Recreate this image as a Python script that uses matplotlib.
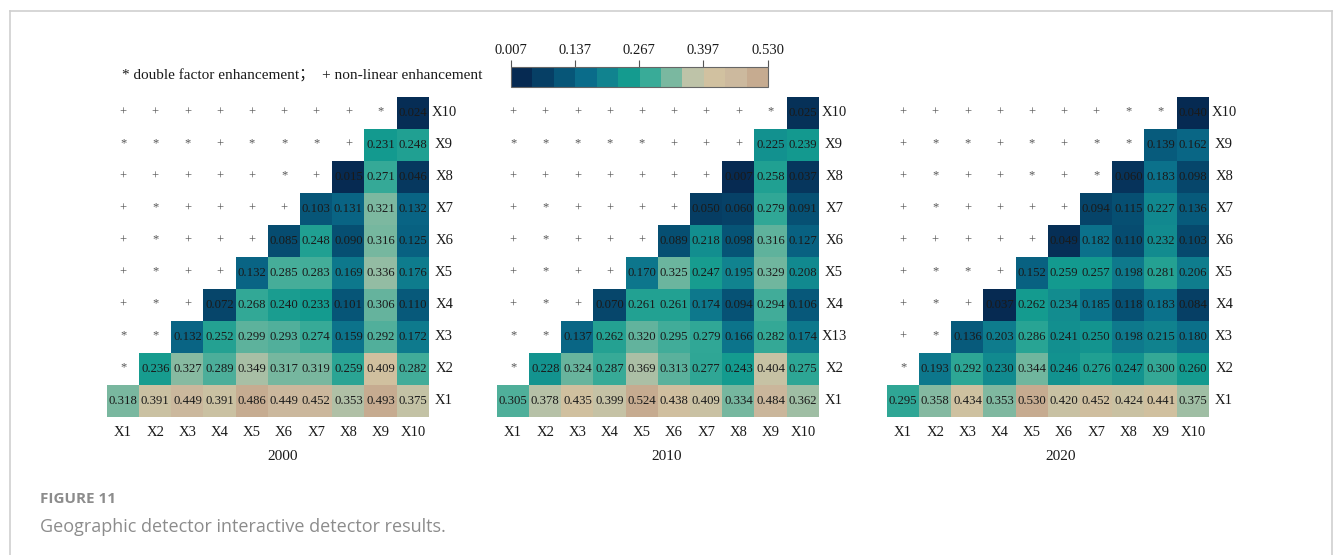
import numpy as np
import matplotlib
matplotlib.use("Agg")
import matplotlib.pyplot as plt
from matplotlib.colors import ListedColormap, LinearSegmentedColormap, Normalize
from matplotlib.cm import ScalarMappable
from matplotlib.lines import Line2D

W, H = 1333, 555
SERIF = "Liberation Serif"

factors = ["X1", "X2", "X3", "X4", "X5", "X6", "X7", "X8", "X9", "X10"]
years = ["2000", "2010", "2020"]

# q values of interactions, one row per factor (X1 at the bottom),
# each row running from the diagonal out to X10
q_2000 = [
    [0.318, 0.391, 0.449, 0.391, 0.486, 0.449, 0.452, 0.353, 0.493, 0.375],
    [0.236, 0.327, 0.289, 0.349, 0.317, 0.319, 0.259, 0.409, 0.282],
    [0.132, 0.252, 0.299, 0.293, 0.274, 0.159, 0.292, 0.172],
    [0.072, 0.268, 0.240, 0.233, 0.101, 0.306, 0.110],
    [0.132, 0.285, 0.283, 0.169, 0.336, 0.176],
    [0.085, 0.248, 0.090, 0.316, 0.125],
    [0.103, 0.131, 0.321, 0.132],
    [0.015, 0.271, 0.046],
    [0.231, 0.248],
    [0.024],
]
q_2010 = [
    [0.305, 0.378, 0.435, 0.399, 0.524, 0.438, 0.409, 0.334, 0.484, 0.362],
    [0.228, 0.324, 0.287, 0.369, 0.313, 0.277, 0.243, 0.404, 0.275],
    [0.137, 0.262, 0.320, 0.295, 0.279, 0.166, 0.282, 0.174],
    [0.070, 0.261, 0.261, 0.174, 0.094, 0.294, 0.106],
    [0.170, 0.325, 0.247, 0.195, 0.329, 0.208],
    [0.089, 0.218, 0.098, 0.316, 0.127],
    [0.050, 0.060, 0.279, 0.091],
    [0.007, 0.258, 0.037],
    [0.225, 0.239],
    [0.025],
]
q_2020 = [
    [0.295, 0.358, 0.434, 0.353, 0.530, 0.420, 0.452, 0.424, 0.441, 0.375],
    [0.193, 0.292, 0.230, 0.344, 0.246, 0.276, 0.247, 0.300, 0.260],
    [0.136, 0.203, 0.286, 0.241, 0.250, 0.198, 0.215, 0.180],
    [0.037, 0.262, 0.234, 0.185, 0.118, 0.183, 0.084],
    [0.152, 0.259, 0.257, 0.198, 0.281, 0.206],
    [0.049, 0.182, 0.110, 0.232, 0.103],
    [0.094, 0.115, 0.227, 0.136],
    [0.060, 0.183, 0.098],
    [0.139, 0.162],
    [0.040],
]

# interaction type left of the diagonal: * double factor, + non-linear
sym_2000 = ["", "*", "**", "+*+", "+*++", "+*+++", "+*++++", "+++++*+",
            "***+***+", "++++++++*"]
sym_2010 = ["", "*", "**", "+*+", "+*++", "+*+++", "+*++++", "+++++++",
            "*****+++", "++++++++*"]
sym_2020 = ["", "*", "+*", "+*+", "+**+", "+++++", "+*++++", "+*++*+*",
            "+**+*+**", "+++++++**"]

# right-hand row labels (the 2010 panel carries "X13" on its third row)
rows_2000 = factors
rows_2010 = ["X1", "X2", "X13", "X4", "X5", "X6", "X7", "X8", "X9", "X10"]
rows_2020 = factors

palette = ["#062a52", "#063f65", "#075678", "#0a6c8a", "#11838f", "#149b8f",
           "#39ab98", "#7ab8a0", "#bec3a8", "#d1c1a0", "#ccb99e", "#c6ab90"]
cbar_ticks = [0.007, 0.137, 0.267, 0.397, 0.530]

panels = [
    (q_2000, sym_2000, rows_2000, 107, 4.94),
    (q_2010, sym_2010, rows_2010, 497, 4.78),
    (q_2020, sym_2020, rows_2020, 887, 4.90),
]


def fx(x):
    return x / W


def fy(y):
    return 1 - y / H


fig = plt.figure(figsize=(W / 100, H / 100), dpi=100)
cell_cmap = LinearSegmentedColormap.from_list("geo", palette)

for k, (q, sym, rlabels, x0, year_x) in enumerate(panels):
    grid = np.full((10, 10), np.nan)
    for r, row in enumerate(q):
        grid[r, r:] = row
    data = np.ma.masked_invalid(grid)

    ax = fig.add_axes([fx(x0), fy(417), 322 / W, 320 / H])
    ax.imshow(data, origin="lower", cmap=cell_cmap,
              norm=Normalize(data.min(), data.max()),
              interpolation="nearest", aspect="auto")
    ax.set_xlim(-0.5, 9.5)
    ax.set_ylim(-0.5, 9.5)
    ax.axis("off")

    for r in range(10):
        for c in range(10):
            if c >= r:
                ax.text(c, r, f"{grid[r, c]:.3f}", ha="center", va="center",
                        fontsize=9.2, family=SERIF, color="#1a1a1a")
            else:
                ax.text(c, r + (0.05 if sym[r][c] == "*" else 0), sym[r][c],
                        ha="center", va="center", fontsize=9,
                        family=SERIF, color="#555555")
        ax.text(9.97, r, rlabels[r], ha="center", va="center",
                fontsize=10.5, family=SERIF, color="#1a1a1a")
    for c, lab in enumerate(factors):
        ax.text(c, -1.0, lab, ha="center", va="center", fontsize=10.5,
                family=SERIF, color="#1a1a1a")
    ax.text(year_x, -1.75, years[k], ha="center", va="center", fontsize=11,
            family=SERIF, color="#1a1a1a")

fig.text(fx(122), fy(76),
         "* double factor enhancement；  + non-linear enhancement",
         ha="left", va="center", fontsize=11,
         family=[SERIF, "Noto Sans CJK SC"], color="#1a1a1a")

# discrete colour scale
cax = fig.add_axes([fx(511), fy(87), 257 / W, 20 / H])
sm = ScalarMappable(norm=Normalize(0.007, 0.530), cmap=ListedColormap(palette))
cb = fig.colorbar(sm, cax=cax, orientation="horizontal", ticks=cbar_ticks)
cb.ax.xaxis.set_ticks_position("top")
cb.ax.set_xticklabels([f"{t:.3f}" for t in cbar_ticks], family=SERIF,
                      fontsize=10.5, color="#1a1a1a")
cb.ax.tick_params(length=5, width=0.8, color="#555555", pad=2)
cb.outline.set_edgecolor("#666666")
cb.outline.set_linewidth(0.8)

# caption
fig.text(fx(40), fy(499), "FIGURE 11", ha="left", va="center",
         fontsize=11, family="Open Sans", weight="bold", color="#8c8c8c")
fig.text(fx(40), fy(527), "Geographic detector interactive detector results.",
         ha="left", va="center", fontsize=13, family="Open Sans",
         color="#8c8c8c")

# page frame
frame = dict(color="#cfcfcf", linewidth=1.2)
fig.add_artist(Line2D([fx(9.5), fx(9.5)], [0, fy(11)], **frame))
fig.add_artist(Line2D([fx(9.5), fx(1331.5)], [fy(11), fy(11)], **frame))
fig.add_artist(Line2D([fx(1331.5), fx(1331.5)], [0, fy(11)], **frame))

fig.savefig("out.png", dpi=100)
